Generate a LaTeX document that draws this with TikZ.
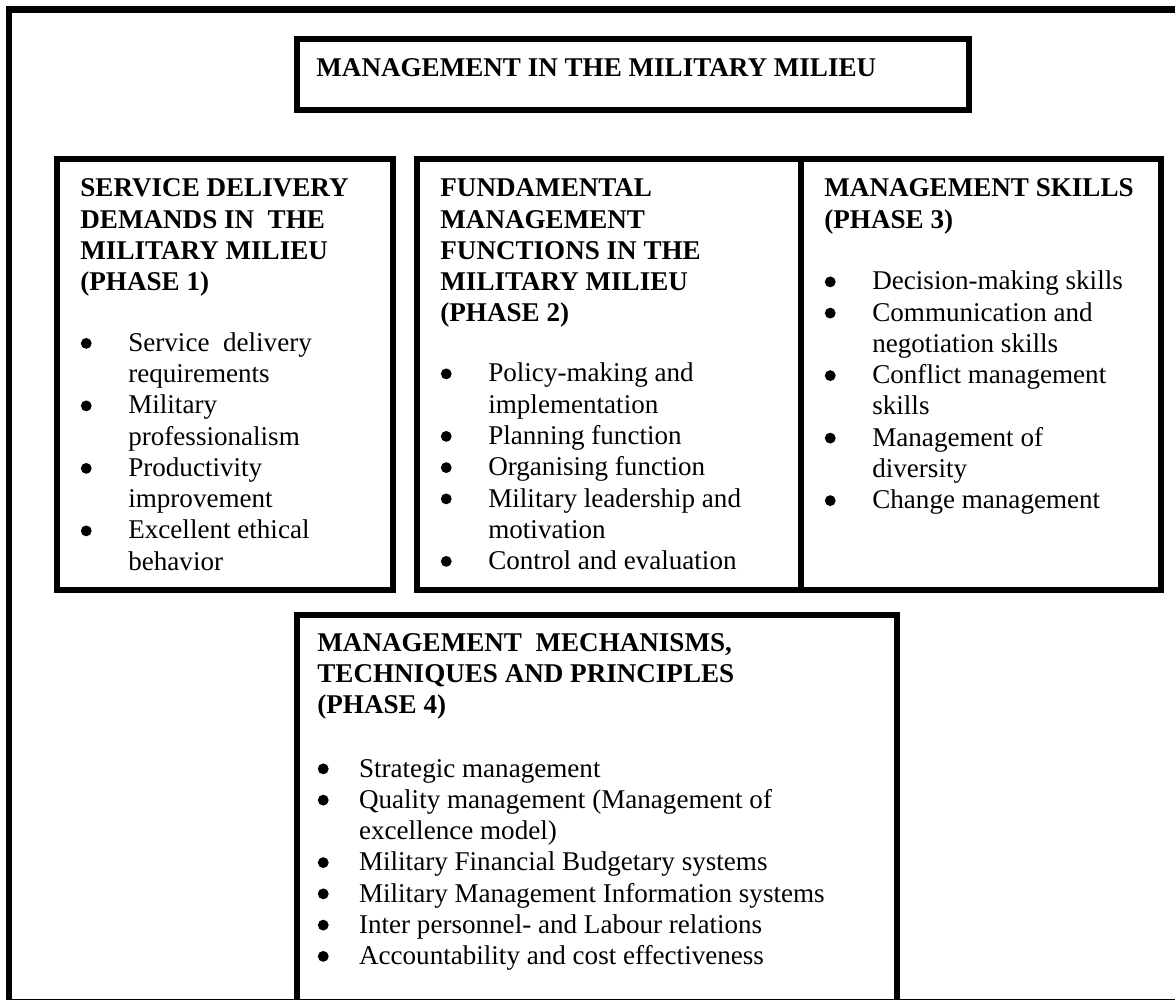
\documentclass[tikz,border=0pt]{standalone}
\usepackage{fontspec}
\setmainfont{Liberation Serif}
\usetikzlibrary{positioning}

% heading lines and bullet lists are set as top-aligned tabulars
\newcommand{\headlines}[1]{\begin{tabular}[t]{@{}l@{}}#1\end{tabular}}
\newcommand{\bulletlist}[2]{\begin{tabular}[t]{@{}p{#1}@{}l@{}}#2\end{tabular}}
% round list bullet, a little larger than the font's own
\newcommand{\blt}{\tikz[baseline=0pt]{\path (0pt,0pt); \fill (2.8pt,3.9pt) circle (2.6pt);}}

\tikzset{
    boxline/.style={line width=2.9pt},
    framebox/.style={line width=3.3pt},
    headtxt/.style={anchor=base west, inner sep=0pt, font=\bfseries\fontsize{13}{15}\selectfont},
    listtxt/.style={anchor=base west, inner sep=0pt, font=\fontsize{13}{15}\selectfont},
}

\begin{document}
\begin{tikzpicture}[x=0.48pt, y=-0.48pt]
    \useasboundingbox (0,0) rectangle (1175,1000);
    \begin{scope}
    \clip (0,0) rectangle (1175,1000);

    % outer frame, cut off at the right and bottom
    \draw[framebox] (9,9.5) rectangle (1185,1002);

    % boxes
    \draw[boxline] (297,39) rectangle (969,110);
    \draw[boxline] (57,159) rectangle (393,590);
    \draw[boxline] (417,159) rectangle (801,590);
    \draw[boxline] (801,159) rectangle (1161,590);
    \draw[boxline] (297,615) rectangle (897,1003);

    % title
    \node[headtxt] (title) at (316,77) {MANAGEMENT IN THE MILITARY MILIEU};

    % phase 1
    \node[headtxt] (headone) at (80,197) {\headlines{SERVICE DELIVERY\\
        DEMANDS IN\ \ THE\\ MILITARY MILIEU\\ (PHASE 1)}};
    \node[listtxt] (listone) at (80,351.5) {\bulletlist{23pt}{%
        \blt & Service\ \ delivery\\
             & requirements\\
        \blt & Military\\
             & professionalism\\
        \blt & Productivity\\
             & improvement\\
        \blt & Excellent ethical\\
             & behavior}};

    % phase 2
    \node[headtxt] (headtwo) at (440,197) {\headlines{FUNDAMENTAL\\
        MANAGEMENT\\ FUNCTIONS IN THE\\ MILITARY MILIEU\\ (PHASE 2)}};
    \node[listtxt] (listtwo) at (440,382) {\bulletlist{23pt}{%
        \blt & Policy-making and\\
             & implementation\\
        \blt & Planning function\\
        \blt & Organising function\\
        \blt & Military leadership and\\
             & motivation\\
        \blt & Control and evaluation}};

    % phase 3
    \node[headtxt] (headthree) at (824,197) {\headlines{MANAGEMENT SKILLS\\ (PHASE 3)}};
    \node[listtxt] (listthree) at (824,290) {\bulletlist{23pt}{%
        \blt & Decision-making skills\\
        \blt & Communication and\\
             & negotiation skills\\
        \blt & Conflict management\\
             & skills\\
        \blt & Management of\\
             & diversity\\
        \blt & Change management}};

    % phase 4
    \node[headtxt] (headfour) at (317,651) {\headlines{MANAGEMENT\ \ MECHANISMS,\\
        TECHNIQUES AND PRINCIPLES\\ (PHASE 4)}};
    \node[listtxt] (listfour) at (317,777) {\bulletlist{20pt}{%
        \blt & Strategic management\\
        \blt & Quality management (Management of\\
             & excellence model)\\
        \blt & Military Financial Budgetary systems\\
        \blt & Military Management Information systems\\
        \blt & Inter personnel- and Labour relations\\
        \blt & Accountability and cost effectiveness}};
    \end{scope}
\end{tikzpicture}
\end{document}
